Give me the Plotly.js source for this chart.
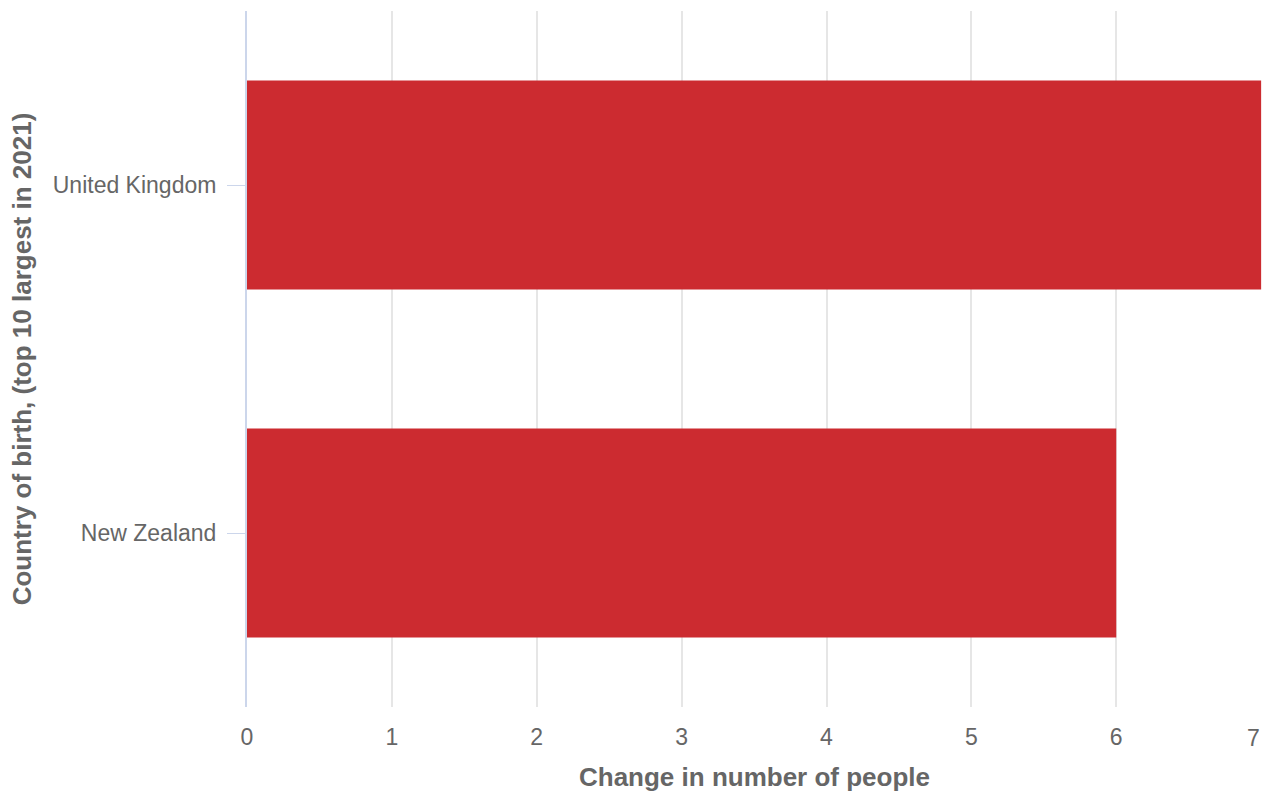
<!DOCTYPE html>
<html>
<head>
<meta charset="utf-8">
<script src="https://cdn.plot.ly/plotly-3.0.1.min.js"></script>
<style>
  html, body { margin: 0; padding: 0; background: #ffffff; }
  #chart { width: 1263px; height: 794px; }
</style>
</head>
<body>
<div id="chart"></div>
<script>
// Data
var countries = ["New Zealand", "United Kingdom"];
var changeValues = [6, 7];
var xTickValues = [0, 1, 2, 3, 4, 5, 6, 7];
var xTickLabels = ["0", "1", "2", "3", "4", "5", "6", "7"];
var xAxisTitle = "Change in number of people";
var yAxisTitle = "Country of birth, (top 10 largest in 2021)";

var nTicks = xTickValues.length;
var xRange = [0, 7.006];

var trace = {
  type: "bar",
  orientation: "h",
  y: countries,
  x: changeValues,
  marker: { color: "#cc2b30", line: { width: 0 } },
  hoverinfo: "x+y"
};

var font = "Liberation Sans, Arial, Helvetica, sans-serif";
var tickFont = { family: font, size: 23, color: "#666666" };

var layout = {
  width: 1263,
  height: 794,
  paper_bgcolor: "#ffffff",
  plot_bgcolor: "#ffffff",
  margin: { l: 247, r: 1, t: 11, b: 87, pad: 0 },
  showlegend: false,
  bargap: 0.4,
  font: { family: font, color: "#666666", size: 23 },
  xaxis: {
    range: xRange,
    tickvals: xTickValues,
    // last label is drawn below as an annotation, nudged inward like the reference
    ticktext: xTickLabels.map(function (t, i) { return i < nTicks - 1 ? t : ""; }),
    showgrid: true,
    gridcolor: "#e6e6e6",
    gridwidth: 2,
    zeroline: false,
    showline: false,
    ticks: "",
    ticklabelstandoff: 14,
    tickfont: tickFont,
    title: {
      text: xAxisTitle,
      font: { family: font, size: 26, color: "#666666", weight: "bold" },
      standoff: 18
    },
    automargin: false,
    fixedrange: true
  },
  yaxis: {
    categoryorder: "array",
    categoryarray: countries,
    showgrid: false,
    zeroline: false,
    showline: true,
    linecolor: "#ccd6eb",
    linewidth: 2,
    ticks: "outside",
    ticklen: 18,
    tickwidth: 1,
    tickcolor: "#ccd6eb",
    ticklabelstandoff: 6,
    tickfont: tickFont,
    title: {
      text: yAxisTitle,
      font: { family: font, size: 26, color: "#666666", weight: "bold" },
      standoff: 14
    },
    automargin: false,
    fixedrange: true
  },
  annotations: [{
    xref: "x",
    yref: "paper",
    x: xTickValues[nTicks - 1],
    y: 0,
    text: xTickLabels[nTicks - 1],
    showarrow: false,
    xanchor: "center",
    yanchor: "middle",
    xshift: -8,
    yshift: -31,
    font: tickFont
  }]
};

Plotly.newPlot("chart", [trace], layout, { displayModeBar: false });
</script>
</body>
</html>
